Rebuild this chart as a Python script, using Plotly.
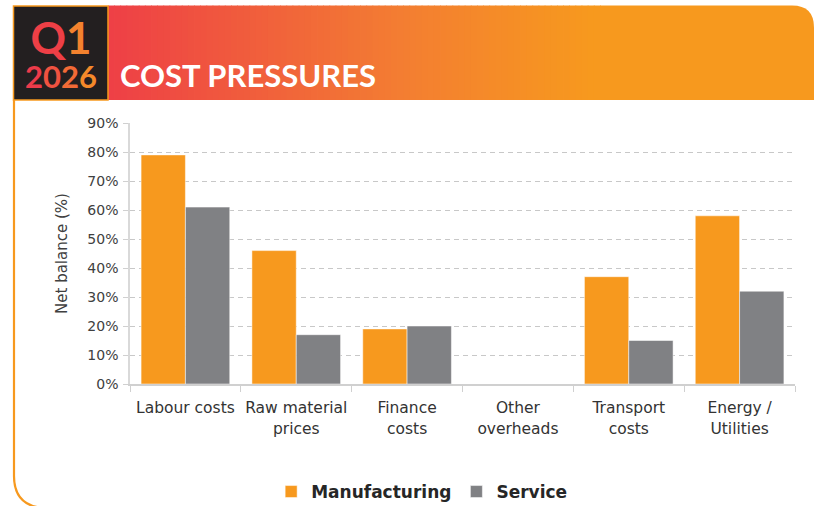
import plotly.graph_objects as go

categories = ["Labour costs", "Raw material<br>prices", "Finance<br>costs", "Other<br>overheads",
              "Transport<br>costs", "Energy /<br>Utilities"]
manufacturing = [0.79, 0.46, 0.19, 0.0, 0.37, 0.58]
service = [0.61, 0.17, 0.20, 0.0, 0.15, 0.32]
y_ticks = [0, 0.1, 0.2, 0.3, 0.4, 0.5, 0.6, 0.7, 0.8, 0.9]

W, H = 814, 506
ORANGE = "#F7991E"
GRAY = "#808184"
HFONT = "Lato"
BFONT = "DejaVu Sans"
LFONT = "DejaVu Sans"


def px(x):
    return x / W


def py(y):
    return 1 - y / H


fig = go.Figure()
fig.add_trace(go.Bar(x=categories, y=manufacturing, name="Manufacturing",
                     marker=dict(color=ORANGE, line=dict(color="rgba(255,255,255,0.5)", width=1))))
fig.add_trace(go.Bar(x=categories, y=service, name="Service",
                     marker=dict(color=GRAY, line=dict(color="rgba(255,255,255,0.5)", width=1))))

shapes = []


def lerp(c1, c2, t):
    return tuple(round(a + (b - a) * t) for a, b in zip(c1, c2))


stops = [(108, (238, 63, 70)), (400, (243, 125, 50)), (590, (247, 153, 30))]
x0 = 108
n = 80
x_end = 600
step = (x_end - x0) / n
for i in range(n):
    xa = x0 + i * step
    xm = xa + step / 2
    if xm <= stops[1][0]:
        t = (xm - stops[0][0]) / (stops[1][0] - stops[0][0])
        c = lerp(stops[0][1], stops[1][1], t)
    else:
        t = min(1, (xm - stops[1][0]) / (stops[2][0] - stops[1][0]))
        c = lerp(stops[1][1], stops[2][1], t)
    shapes.append(dict(type="rect", xref="paper", yref="paper",
                       x0=px(xa), x1=px(xa + step + 0.8), y0=py(100), y1=py(5.5),
                       fillcolor="rgb(%d,%d,%d)" % c, line=dict(width=0), layer="below"))
r = 22
path = (f"M {px(x_end)},{py(100)} L {px(W)},{py(100)} L {px(W)},{py(5.5 + r)} "
        f"Q {px(W)},{py(5.5)} {px(W - r)},{py(5.5)} L {px(x_end)},{py(5.5)} Z")
shapes.append(dict(type="path", xref="paper", yref="paper", path=path,
                   fillcolor=ORANGE, line=dict(width=0), layer="below"))
shapes.append(dict(type="rect", xref="paper", yref="paper",
                   x0=px(13.5), x1=px(108), y0=py(100), y1=py(6),
                   fillcolor="#231F20", line=dict(color=ORANGE, width=1.5), layer="below"))
bpath = (f"M {px(14)},{py(100)} L {px(14)},{py(476)} "
         f"Q {px(14)},{py(506)} {px(44)},{py(508)}")
shapes.append(dict(type="path", xref="paper", yref="paper", path=bpath,
                   line=dict(color=ORANGE, width=2.2), layer="below"))

q_text = ('<b><span style="font-size:44px;color:#EE3F46">Q</span>'
          '<span style="font-size:44px;color:#F4822E">1</span><br>'
          '<span style="font-size:31px;color:#EC3B4A">2</span>'
          '<span style="font-size:31px;color:#EF5240">0</span>'
          '<span style="font-size:31px;color:#F26A36">2</span>'
          '<span style="font-size:31px;color:#F5892A">6</span></b>')

annotations = [
    dict(text=q_text, x=px(61), y=py(53), xref="paper", yref="paper", showarrow=False,
         font=dict(family=HFONT, size=26), xanchor="center", yanchor="middle", align="center"),
    dict(text="<b>COST PRESSURES</b>", x=px(118), y=py(75), xref="paper", yref="paper",
         showarrow=False, font=dict(family=HFONT, size=31, color="white"),
         xanchor="left", yanchor="middle"),
]

fig.update_layout(
    width=W, height=H,
    margin=dict(l=0, r=0, t=0, b=0, autoexpand=False),
    paper_bgcolor="white", plot_bgcolor="white",
    barmode="group", bargap=0.2, bargroupgap=0,
    shapes=shapes, annotations=annotations,
    font=dict(family=BFONT, color="#404040"),
    legend=dict(orientation="h", x=0.518, xanchor="center", y=py(492), yanchor="middle",
                font=dict(family=LFONT, size=17, color="#262626", weight="bold"),
                itemwidth=30, traceorder="normal"),
    xaxis=dict(domain=[px(130), px(795)], showline=True, linecolor="#D0D0D0", linewidth=1.5,
               ticks="outside", tickson="boundaries", ticklen=6, tickcolor="#D0D0D0",
               tickangle=0, ticklabelstandoff=9,
               tickfont=dict(family=BFONT, size=15.5, color="#333333"), showgrid=False),
    yaxis=dict(domain=[py(384), py(123)], range=[0, 0.9], tickvals=y_ticks, tickformat=".0%",
               showline=True, linecolor="#D9D9D9", linewidth=1.5, ticks="outside", ticklen=5,
               ticklabelstandoff=2,
               tickcolor="#D0D0D0", tickfont=dict(family=BFONT, size=14, color="#404040"),
               showgrid=True, gridcolor="#C8C8C8", griddash="5px,4px", gridwidth=1,
               zeroline=False,
               title=dict(text="Net balance (%)", font=dict(family=BFONT, size=15, color="#404040"),
                          standoff=16)),
)

fig.write_html("out.html")
